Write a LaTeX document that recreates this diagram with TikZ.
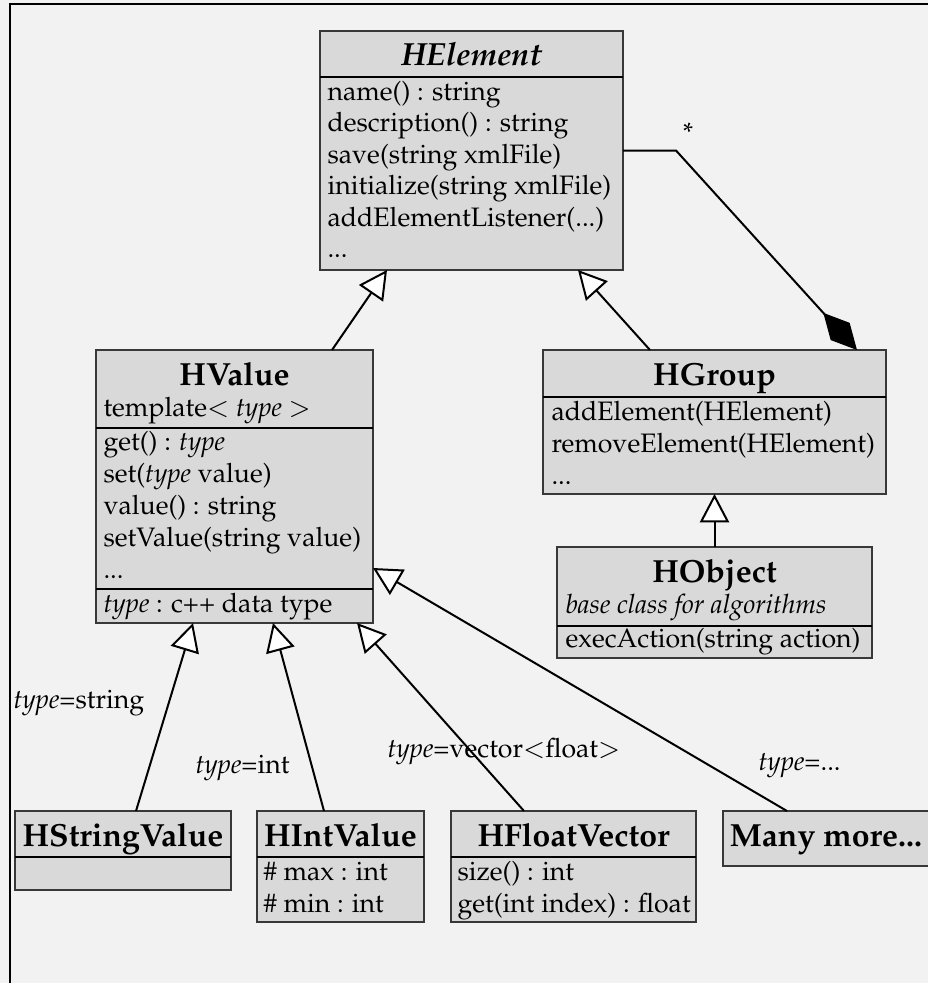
\documentclass[tikz,border=0pt]{standalone}
\usepackage[T1]{fontenc}
\usepackage{mathpazo}
\usetikzlibrary{arrows.meta,calc}
\newlength\pxu
\setlength\pxu{0.375pt}
\definecolor{bgcol}{HTML}{F2F2F2}
\definecolor{boxgray}{HTML}{D9D9D9}
\definecolor{edgegray}{HTML}{383838}

\begin{document}
\begin{tikzpicture}[x=0.375pt,y=-0.375pt,
  classbox/.style={draw=edgegray, line width=0.5pt, fill=boxgray,
    inner sep=0pt, outer sep=0pt, anchor=north west},
  sepline/.style={draw=black, line width=1.05pt},
  title/.style={anchor=base, inner sep=0pt, font=\large\bfseries},
  member/.style={anchor=base west, inner sep=0pt},
  lbl/.style={anchor=base west, inner sep=0pt},
  inherit/.style={draw=black, line width=0.75pt,
    -{Triangle[length=10.6pt, width=10.9pt, fill=white]}},
  comp/.style={draw=black, line width=0.75pt,
    -{Diamond[length=18.8pt, width=9.6pt]}},
]
\useasboundingbox (0,0) rectangle (928,983);
\fill[bgcol] (0,0) rectangle (928,983);
\draw[line width=0.75pt] (10,995) -- (10,4) -- (940,4);

% ---------- HElement ----------
\node[classbox, minimum width=303*\pxu, minimum height=239*\pxu] (helement) at (320,31) {};
\draw[sepline] ($(helement.north west)+(0,46)$) -- ($(helement.north east)+(0,46)$);
\node[title, font=\large\bfseries\itshape] (he-t) at ($(helement.north)+(0,34)$) {HElement};
\node[member] (he-1) at ($(helement.north west)+(7,69)$) {name() : string};
\node[member] (he-2) at ($(helement.north west)+(7,100.5)$) {description() : string};
\node[member] (he-3) at ($(helement.north west)+(7,132)$) {save(string xmlFile)};
\node[member] (he-4) at ($(helement.north west)+(7,163.5)$) {initialize(string xmlFile)};
\node[member] (he-5) at ($(helement.north west)+(7,195)$) {addElementListener(...)};
\node[member] (he-6) at ($(helement.north west)+(7,226.5)$) {...};

% ---------- HValue ----------
\node[classbox, minimum width=277*\pxu, minimum height=273*\pxu] (hvalue) at (96,350) {};
\draw[sepline] ($(hvalue.north west)+(0,78)$) -- ($(hvalue.north east)+(0,78)$);
\draw[sepline] ($(hvalue.north west)+(0,239)$) -- ($(hvalue.north east)+(0,239)$);
\node[title] (hv-t) at ($(hvalue.north)+(0,35)$) {HValue};
\node[member] (hv-0) at ($(hvalue.north west)+(7,66)$) {template$<$ \textit{type} $>$};
\node[member] (hv-1) at ($(hvalue.north west)+(7,100)$) {get() : \textit{type}};
\node[member] (hv-2) at ($(hvalue.north west)+(7,132)$) {set(\textit{type} value)};
\node[member] (hv-3) at ($(hvalue.north west)+(7,164)$) {value() : string};
\node[member] (hv-4) at ($(hvalue.north west)+(7,196)$) {setValue(string value)};
\node[member] (hv-5) at ($(hvalue.north west)+(7,228)$) {...};
\node[member] (hv-6) at ($(hvalue.north west)+(7,262)$) {\textit{type} : c++ data type};

% ---------- HGroup ----------
\node[classbox, minimum width=343*\pxu, minimum height=144*\pxu] (hgroup) at (543,350) {};
\draw[sepline] ($(hgroup.north west)+(0,47)$) -- ($(hgroup.north east)+(0,47)$);
\node[title] (hg-t) at ($(hgroup.north)+(0,35)$) {HGroup};
\node[member] (hg-1) at ($(hgroup.north west)+(8,70)$) {addElement(HElement)};
\node[member] (hg-2) at ($(hgroup.north west)+(8,102)$) {removeElement(HElement)};
\node[member] (hg-3) at ($(hgroup.north west)+(8,134)$) {...};

% ---------- HObject ----------
\node[classbox, minimum width=315*\pxu, minimum height=111*\pxu] (hobject) at (557,547) {};
\draw[sepline] ($(hobject.north west)+(0,79)$) -- ($(hobject.north east)+(0,79)$);
\node[title] (ho-t) at ($(hobject.north)+(0,35)$) {HObject};
\node[member] (ho-0) at ($(hobject.north west)+(8,66)$) {\textit{base class for algorithms}};
\node[member] (ho-1) at ($(hobject.north west)+(8,100)$) {execAction(string action)};

% ---------- concrete value classes ----------
\node[classbox, minimum width=216*\pxu, minimum height=79*\pxu] (hstring) at (15,811) {};
\draw[sepline] ($(hstring.north west)+(0,46)$) -- ($(hstring.north east)+(0,46)$);
\node[title] (hs-t) at ($(hstring.north)+(0,35)$) {HStringValue};

\node[classbox, minimum width=167*\pxu, minimum height=111*\pxu] (hint) at (257,811) {};
\draw[sepline] ($(hint.north west)+(0,46)$) -- ($(hint.north east)+(0,46)$);
\node[title] (hi-t) at ($(hint.north)+(0,35)$) {HIntValue};
\node[member] (hi-1) at ($(hint.north west)+(6,69)$) {\# max : int};
\node[member] (hi-2) at ($(hint.north west)+(6,101)$) {\# min : int};

\node[classbox, minimum width=245*\pxu, minimum height=111*\pxu] (hfloat) at (451,811) {};
\draw[sepline] ($(hfloat.north west)+(0,46)$) -- ($(hfloat.north east)+(0,46)$);
\node[title] (hf-t) at ($(hfloat.north)+(0,35)$) {HFloatVector};
\node[member] (hf-1) at ($(hfloat.north west)+(6,69)$) {size() : int};
\node[member] (hf-2) at ($(hfloat.north west)+(6,101)$) {get(int index) : float};

\node[classbox, minimum width=206*\pxu, minimum height=55*\pxu] (manymore) at (723,811) {};
\node[title] (mm-t) at ($(manymore.north)+(0,35)$) {Many more...};

% ---------- relations ----------
\draw[inherit] ($(hvalue.north)+(97.5,0)$) -- ($(helement.south)+(-84.5,0)$);
\draw[inherit] ($(hgroup.north)+(-64.5,0)$) -- ($(helement.south)+(106.5,0)$);
\draw[inherit] (hobject.north) -- (hgroup.south);
\draw[inherit] ($(hstring.north)+(13,0)$) -- ($(hvalue.south)+(-41.5,0)$);
\draw[inherit] ($(hint.north)+(-16.5,0)$) -- ($(hvalue.south)+(38.5,0)$);
\draw[inherit] ($(hfloat.north)+(-49.5,0)$) -- ($(hvalue.south)+(122.5,0)$);
\draw[inherit] ($(manymore.north)+(-39,0)$) -- ($(hvalue.east)+(0,81.5)$);
\draw[comp] (helement.east) -- ++(53,0) -- ($(hgroup.north)+(142.5,0)$);

% ---------- labels ----------
\node[anchor=center, inner sep=0pt] (star) at (688,132) {*};
\node[lbl] (l-str) at (13,708) {\textit{type}=string};
\node[lbl] (l-int) at (195,773) {\textit{type}=int};
\node[lbl] (l-vec) at (387,757) {\textit{type}=vector$<$float$>$};
\node[lbl] (l-etc) at (758,770) {\textit{type}=...};
\end{tikzpicture}
\end{document}
